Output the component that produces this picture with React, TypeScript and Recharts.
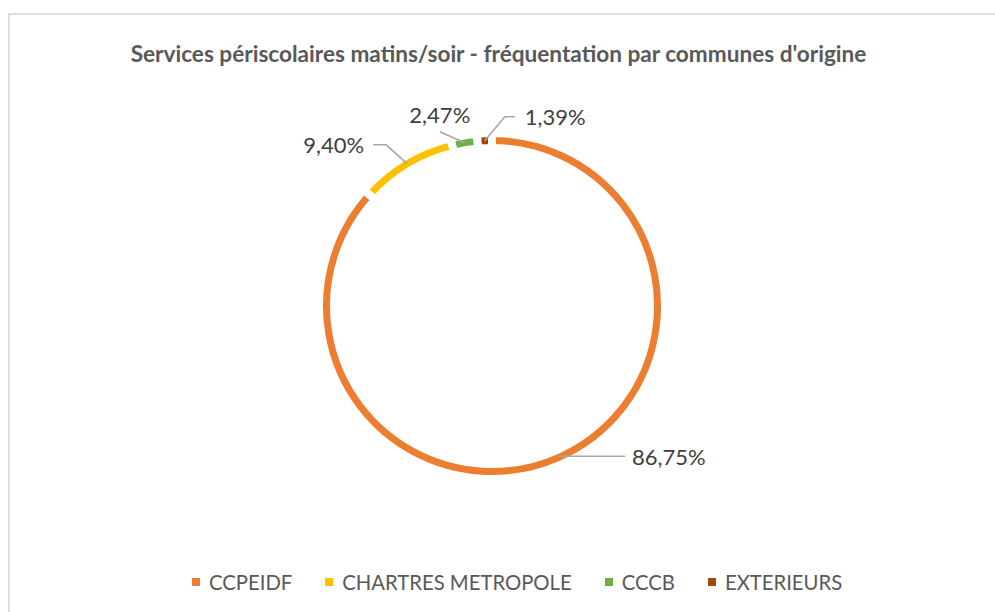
import React from 'react';
import { PieChart, Pie, Cell, Legend } from 'recharts';

const categories = ['CCPEIDF', 'CHARTRES METROPOLE', 'CCCB', 'EXTERIEURS'];
const shares = [86.75, 9.4, 2.47, 1.39];
const colors = ['#ED7D31', '#FFC000', '#70AD47', '#9E480E'];
const title = "Services périscolaires matins/soir - fréquentation par communes d'origine";

const data = categories.map((name, i) => ({ name, value: shares[i] }));

// leader-line layout per label (style only)
const leaderLayout = [
  { ex: 0, ey: -1, tail: 66, tx: 7, ty: 0, anchor: 'start' },
  { ex: -21, ey: -19, tail: -13, tx: -9, ty: 0, anchor: 'end' },
  { ex: -25, ey: -11, tail: 0, tx: 0, ty: -17.5, anchor: 'middle' },
  { ex: 20, ey: -24, tail: 10, tx: 10, ty: 0, anchor: 'start' },
];

const RAD = Math.PI / 180;
const FONT = 'Lato, Carlito, Calibri, sans-serif';

function renderLabel(props: any) {
  const { cx, cy, midAngle, innerRadius, outerRadius, index, value } = props;
  const r = (innerRadius + outerRadius) / 2;
  const x0 = cx + r * Math.cos(-midAngle * RAD);
  const y0 = cy + r * Math.sin(-midAngle * RAD);
  const L = leaderLayout[index];
  const x1 = x0 + L.ex;
  const y1 = y0 + L.ey;
  const x2 = x1 + L.tail;
  return (
    <g key={`lbl-${index}`}>
      <polyline
        points={`${x0},${y0} ${x1},${y1} ${x2},${y1}`}
        fill="none"
        stroke="#A6A6A6"
        strokeWidth={1.5}
      />
      <text
        x={x2 + L.tx}
        y={y1 + L.ty}
        textAnchor={L.anchor as any}
        dominantBaseline="central"
        fill="#404040"
        fontSize={22}
        fontFamily={FONT}
      >
        {Number(value).toFixed(2).replace('.', ',')}%
      </text>
    </g>
  );
}

function renderLegend(props: any) {
  const payload = [...(props.payload || [])].sort(
    (a: any, b: any) => categories.indexOf(a.value) - categories.indexOf(b.value)
  );
  return (
    <div
      style={{
        display: 'flex',
        alignItems: 'center',
        fontFamily: FONT,
        fontSize: 20.3,
        lineHeight: '24px',
        color: '#595959',
        whiteSpace: 'nowrap',
      }}
    >
      {payload.map((entry: any, i: number) => (
        <div
          key={entry.value}
          style={{ display: 'flex', alignItems: 'center', marginRight: i < payload.length - 1 ? 33 : 0 }}
        >
          <span style={{ width: 8, height: 8, background: entry.color, marginRight: 9, display: 'inline-block' }} />
          <span>{entry.value}</span>
        </div>
      ))}
    </div>
  );
}

export default function App() {
  return (
    <div style={{ position: 'absolute', left: 0, top: 0, width: 995, height: 612, overflow: 'hidden', background: '#fff' }}>
      <div
        style={{
          position: 'absolute',
          left: 8,
          top: 13,
          width: 1010,
          height: 640,
          border: '2px solid #DEDEDE',
          boxSizing: 'border-box',
        }}
      />
      <svg style={{ position: 'absolute', left: 0, top: 0 }} width={995} height={100}>
        <text
          x={498.5}
          y={62}
          textAnchor="middle"
          fontFamily={FONT}
          fontWeight="bold"
          fontSize={22.6}
          fill="#595959"
        >
          {title}
        </text>
      </svg>
      <div style={{ position: 'absolute', left: 0, top: 0 }}>
        <PieChart width={995} height={612} margin={{ top: 0, right: 0, bottom: 0, left: 0 }}>
          <Pie
            data={data}
            dataKey="value"
            nameKey="name"
            cx={492}
            cy={306}
            innerRadius={158}
            outerRadius={173}
            startAngle={90}
            endAngle={-270}
            isAnimationActive={false}
            labelLine={false}
            label={renderLabel}
            stroke="#fff"
            strokeWidth={8}
          >
            {data.map((d, i) => (
              <Cell key={d.name} fill={colors[i]} stroke="#fff" strokeWidth={8} />
            ))}
          </Pie>
          <Legend
            content={renderLegend}
            itemSorter={null as any}
            wrapperStyle={{ position: 'absolute', left: 192, top: 570, width: 'auto', height: 'auto' }}
          />
        </PieChart>
      </div>
    </div>
  );
}
